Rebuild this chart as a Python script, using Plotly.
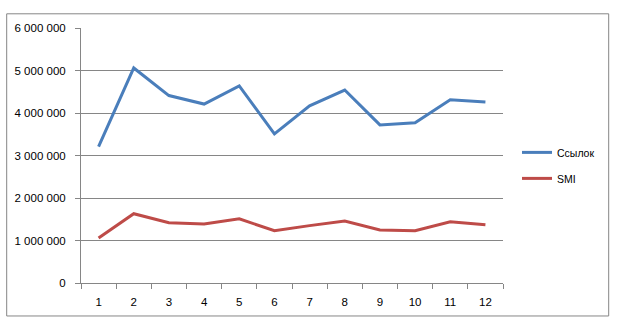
import plotly.graph_objects as go

categories = [1, 2, 3, 4, 5, 6, 7, 8, 9, 10, 11, 12]
links = [3210000, 5060000, 4410000, 4210000, 4640000, 3510000, 4170000, 4540000, 3720000, 3770000, 4310000, 4260000]
smi = [1060000, 1630000, 1420000, 1390000, 1510000, 1230000, 1350000, 1460000, 1250000, 1230000, 1440000, 1370000]
y_ticks = [0, 1000000, 2000000, 3000000, 4000000, 5000000, 6000000]
y_labels = ["0", "1 000 000", "2 000 000", "3 000 000", "4 000 000", "5 000 000", "6 000 000"]

W, H = 619, 322
L, R, T, B = 81, 503, 27.5, 282.7

fig = go.Figure()
fig.add_trace(go.Scatter(x=categories, y=links, mode="lines", name="Ссылок",
                         line=dict(color="#4a7ebb", width=3), legendgroup="a"))
fig.add_trace(go.Scatter(x=categories, y=smi, mode="lines", name="SMI",
                         line=dict(color="#be4b48", width=3), legendgroup="b"))

def px2x(px):
    return (px - L) / (R - L)

def px2y(py):
    return (B - py) / (B - T)

fig.add_shape(type="rect", xref="paper", yref="paper",
              x0=px2x(6.7), x1=px2x(608.7), y0=px2y(315.7), y1=px2y(13.3),
              line=dict(color="#868686", width=1), fillcolor="rgba(0,0,0,0)", layer="below")

fig.update_layout(
    width=W, height=H,
    margin=dict(l=L, r=W - R, t=T, b=H - B, pad=0),
    paper_bgcolor="white", plot_bgcolor="white",
    font=dict(family="Liberation Sans, Arial, sans-serif", size=11.5, color="#000000"),
    showlegend=True,
    legend=dict(x=px2x(517), y=px2y(165), xanchor="left", yanchor="middle",
                traceorder="grouped", tracegroupgap=7, font=dict(size=10.5),
                bgcolor="rgba(0,0,0,0)"),
    xaxis=dict(range=[0.5, 12.5], tickmode="array", tickvals=categories,
               ticktext=[str(c) for c in categories], showgrid=False,
               showline=True, linecolor="#868686", linewidth=1,
               ticks="", ticklabelstandoff=8, zeroline=False, fixedrange=True),
    yaxis=dict(range=[0, 6000000], tickmode="array", tickvals=y_ticks, ticktext=y_labels,
               showgrid=True, gridcolor="#868686", gridwidth=1,
               showline=True, linecolor="#868686", linewidth=1,
               ticks="outside", ticklen=5, tickcolor="#868686", ticklabelstandoff=7,
               zeroline=False, fixedrange=True),
)

# category-boundary tick marks on x axis (between categories), via minor ticks
fig.update_xaxes(minor=dict(tickmode="array", tickvals=[c - 0.5 for c in categories] + [12.5],
                            ticks="outside", ticklen=5, tickcolor="#868686", showgrid=False))

fig.write_html("out.html", config={"displayModeBar": False})
